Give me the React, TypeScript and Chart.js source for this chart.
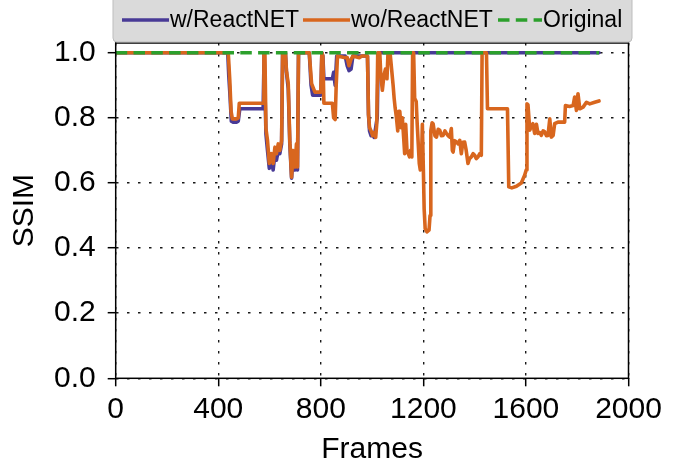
import { useEffect, useRef } from "react";
import { Chart, registerables } from "chart.js";

Chart.register(...registerables);

// ---------- data ----------
const xTicks = [0, 400, 800, 1200, 1600, 2000];
const yTicks = [0, 0.2, 0.4, 0.6, 0.8, 1.0];

const seriesNames = ["w/ReactNET", "wo/ReactNET", "Original"];

const framesWith = [
  0, 437, 441, 445, 451, 458, 471, 478, 484, 575, 579, 582, 586, 592, 599, 608, 614, 621, 627, 634, 640, 647, 651, 662,
  666, 673, 679, 686, 692, 699, 705, 709, 713, 755, 762, 768, 780, 800, 804, 808, 812, 845, 850, 856, 862, 867, 895, 903,
  910, 918, 925, 950, 982, 986, 990, 996, 1002, 1008, 1014, 1020, 1024, 1885,
];
const ssimWith = [
  1, 1, 0.93, 0.88, 0.79, 0.787, 0.787, 0.79, 0.828, 0.828, 1, 1, 0.75, 0.7, 0.645, 0.67, 0.64, 0.69, 0.67, 0.7, 0.69, 0.72,
  1, 1, 0.94, 0.89, 0.72, 0.615, 0.69, 0.64, 0.7, 0.64, 1, 1, 0.9, 0.87, 0.87, 0.87, 1, 0.99, 0.92, 0.92, 0.94, 0.9, 0.99,
  0.99, 0.99, 0.96, 0.945, 0.95, 0.99, 0.99, 0.99, 0.81, 0.76, 0.745, 0.75, 0.74, 0.77, 0.8, 1, 1,
];

const framesWithout = [
  0, 439, 445, 450, 455, 471, 478, 482, 575, 578, 582, 586, 592, 599, 608, 614, 621, 627, 634, 640, 647, 651, 662, 666,
  673, 679, 686, 692, 699, 705, 709, 713, 755, 764, 777, 800, 804, 808, 812, 845, 850, 856, 860, 865, 895, 903, 910, 918,
  925, 950, 960, 982, 986, 990, 996, 1002, 1008, 1014, 1018, 1022, 1030, 1034, 1040, 1046, 1052, 1058, 1062, 1070, 1076,
  1082, 1086, 1090, 1095, 1100, 1104, 1108, 1113, 1118, 1123, 1127, 1131, 1136, 1141, 1146, 1150, 1155, 1158, 1162, 1166,
  1172, 1176, 1180, 1184, 1188, 1192, 1196, 1200, 1203, 1207, 1214, 1222, 1226, 1229, 1234, 1238, 1245, 1251, 1258, 1264,
  1270, 1277, 1284, 1290, 1297, 1303, 1309, 1313, 1316, 1322, 1329, 1336, 1342, 1348, 1354, 1361, 1367, 1374, 1380, 1387,
  1394, 1400, 1406, 1413, 1420, 1426, 1429, 1446, 1450, 1528, 1533, 1545, 1563, 1582, 1595, 1601, 1604, 1608, 1615, 1621,
  1627, 1634, 1641, 1647, 1654, 1660, 1667, 1673, 1680, 1686, 1693, 1699, 1706, 1712, 1725, 1751, 1754, 1770, 1784, 1790,
  1797, 1803, 1810, 1823, 1836, 1849, 1868, 1885,
];
const ssimWithout = [
  1, 1, 0.915, 0.82, 0.797, 0.797, 0.8, 0.845, 0.845, 1, 1, 0.767, 0.731, 0.66, 0.69, 0.66, 0.71, 0.69, 0.72, 0.7, 0.73, 1,
  1, 0.945, 0.905, 0.73, 0.618, 0.7, 0.649, 0.72, 0.649, 1, 1, 0.905, 0.879, 0.879, 1, 0.99, 0.845, 0.845, 0.8, 0.795,
  0.9, 0.99, 0.985, 0.985, 0.96, 0.98, 0.99, 0.985, 0.99, 0.99, 0.81, 0.77, 0.76, 0.745, 0.755, 0.74, 0.78, 1, 1, 0.93,
  0.885, 0.93, 0.95, 0.92, 1, 1, 0.95, 0.9, 0.86, 0.83, 0.8, 0.76, 0.82, 0.82, 0.77, 0.8, 0.74, 0.69, 0.78, 0.7, 0.69,
  0.68, 0.7, 0.68, 1, 1, 0.86, 0.85, 0.78, 0.72, 0.66, 0.64, 0.65, 0.78, 0.64, 0.52, 0.46, 0.45, 0.455, 0.5, 0.76, 0.785,
  0.782, 0.745, 0.741, 0.765, 0.762, 0.745, 0.746, 0.76, 0.752, 0.745, 0.741, 0.767, 0.7, 0.695, 0.73, 0.726, 0.72, 0.731,
  0.69, 0.725, 0.726, 0.7, 0.66, 0.675, 0.68, 0.69, 0.685, 0.675, 0.68, 0.69, 0.685, 1, 1, 0.828, 0.828, 0.588, 0.585,
  0.59, 0.6, 0.624, 0.64, 0.843, 0.84, 0.762, 0.775, 0.782, 0.752, 0.78, 0.752, 0.755, 0.746, 0.76, 0.757, 0.745, 0.746,
  0.797, 0.741, 0.746, 0.782, 0.787, 0.787, 0.838, 0.835, 0.838, 0.864, 0.823, 0.874, 0.828, 0.833, 0.848, 0.843, 0.848,
  0.852,
];

const framesOriginal = [0, 1885];
const ssimOriginal = [1, 1];

// ---------- styles ----------
const COLORS = ["#483A96", "#D8661E", "#2CA02C"];
const FONT = "'Liberation Sans', Arial, Helvetica, sans-serif";

const toPoints = (xs: number[], ys: number[]) => xs.map((x, i) => ({ x, y: ys[i] }));

const framePlugin = {
  id: "frame",
  afterDatasetsDraw(chart: any) {
    const { ctx, chartArea: a } = chart;
    ctx.save();
    ctx.strokeStyle = "#000";
    ctx.lineWidth = 1.5;
    ctx.strokeRect(a.left, a.top, a.right - a.left, a.bottom - a.top);
    ctx.restore();
  },
};

const legendPlugin = {
  id: "boxLegend",
  afterDraw(chart: any) {
    const ctx = chart.ctx as CanvasRenderingContext2D;
    ctx.save();
    const bx = 113, by = -6, bw = 519, bh = 48, r = 4;
    ctx.beginPath();
    ctx.moveTo(bx + r, by);
    ctx.lineTo(bx + bw - r, by);
    ctx.quadraticCurveTo(bx + bw, by, bx + bw, by + r);
    ctx.lineTo(bx + bw, by + bh - r);
    ctx.quadraticCurveTo(bx + bw, by + bh, bx + bw - r, by + bh);
    ctx.lineTo(bx + r, by + bh);
    ctx.quadraticCurveTo(bx, by + bh, bx, by + bh - r);
    ctx.lineTo(bx, by + r);
    ctx.quadraticCurveTo(bx, by, bx + r, by);
    ctx.closePath();
    ctx.fillStyle = "#dadada";
    ctx.fill();
    ctx.strokeStyle = "#bdbdbd";
    ctx.lineWidth = 1;
    ctx.stroke();

    const starts = [122, 303, 498];
    const lens = [47, 47, 44];
    const cy = 20;
    ctx.font = `23px ${FONT}`;
    ctx.textBaseline = "middle";
    ctx.textAlign = "left";
    seriesNames.forEach((name, i) => {
      ctx.beginPath();
      ctx.strokeStyle = COLORS[i];
      ctx.lineWidth = 3.5;
      ctx.setLineDash(i === 2 ? [11.5, 6.3] : []);
      ctx.moveTo(starts[i], cy);
      ctx.lineTo(starts[i] + lens[i], cy);
      ctx.stroke();
      ctx.setLineDash([]);
      ctx.fillStyle = "#000";
      ctx.fillText(name, starts[i] + lens[i] + 1, cy + 1);
    });
    ctx.restore();
  },
};

export default function App() {
  const ref = useRef<HTMLCanvasElement>(null);

  useEffect(() => {
    if (!ref.current) return;
    Chart.defaults.color = "#000";
    const lineStyle = {
      borderWidth: 3.6,
      pointRadius: 0,
      borderJoinStyle: "round",
      borderCapStyle: "round",
    };
    const chart = new Chart(ref.current, {
      type: "line",
      data: {
        datasets: [
          {
            ...lineStyle,
            label: seriesNames[0],
            data: toPoints(framesWith, ssimWith),
            borderColor: COLORS[0],
            backgroundColor: COLORS[0],
            order: 3,
          },
          {
            ...lineStyle,
            label: seriesNames[1],
            data: toPoints(framesWithout, ssimWithout),
            borderColor: COLORS[1],
            backgroundColor: COLORS[1],
            order: 2,
          },
          {
            label: seriesNames[2],
            data: toPoints(framesOriginal, ssimOriginal),
            borderColor: COLORS[2],
            backgroundColor: COLORS[2],
            borderWidth: 3.5,
            borderDash: [11.5, 6.3],
            pointRadius: 0,
            order: 1,
          },
        ],
      },
      options: {
        animation: false,
        responsive: false,
        devicePixelRatio: 1,
        layout: { padding: { top: 43, right: 60.5, left: 0, bottom: 0 } },
        plugins: { legend: { display: false }, tooltip: { enabled: false } },
        scales: {
          x: {
            type: "linear",
            min: 0,
            max: 2000,
            afterFit: (s: any) => {
              s.height = 86.7;
            },
            afterBuildTicks: (s: any) => {
              s.ticks = xTicks.map((v) => ({ value: v }));
            },
            ticks: {
              font: { family: FONT, size: 30 },
              color: "#000",
              padding: 5.5,
              maxRotation: 0,
              callback: (v: any) => String(v),
            },
            grid: {
              color: "rgba(0,0,0,0.9)",
              lineWidth: 1.4,
              tickColor: "#000",
              tickWidth: 1.5,
              tickLength: 8,
            },
            border: { display: false, dash: [2.5, 8.5] },
            title: {
              display: true,
              text: "Frames",
              font: { family: FONT, size: 30, lineHeight: 1 },
              color: "#000",
              padding: { top: 0, bottom: 0 },
            },
          },
          y: {
            type: "linear",
            min: 0,
            max: 1.03,
            afterFit: (s: any) => {
              s.width = 115.7;
            },
            afterBuildTicks: (s: any) => {
              s.ticks = yTicks.map((v) => ({ value: v }));
            },
            ticks: {
              font: { family: FONT, size: 30 },
              color: "#000",
              padding: 12,
              callback: (v: any) => Number(v).toFixed(1),
            },
            grid: {
              color: "rgba(0,0,0,0.9)",
              lineWidth: 1.4,
              tickColor: "#000",
              tickWidth: 1.5,
              tickLength: 8,
            },
            border: { display: false, dash: [2.5, 8.5] },
            title: {
              display: true,
              text: "SSIM",
              font: { family: FONT, size: 30, lineHeight: 1 },
              color: "#000",
              padding: { top: 10, bottom: 0 },
            },
          },
        },
      },
      plugins: [framePlugin, legendPlugin],
    } as any);
    return () => chart.destroy();
  }, []);

  return (
    <div style={{ position: "fixed", left: 0, top: 0, width: 689, height: 465, background: "#fff" }}>
      <canvas ref={ref} width={689} height={465} style={{ display: "block", width: 689, height: 465 }} />
    </div>
  );
}
